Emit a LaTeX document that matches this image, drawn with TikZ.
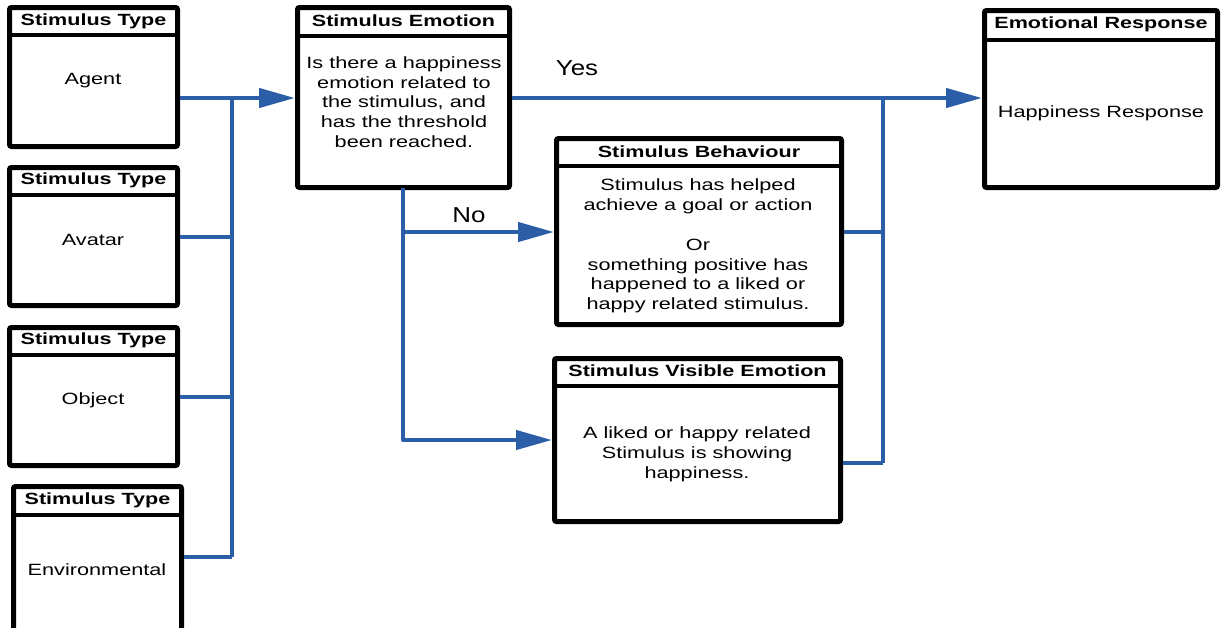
\documentclass[tikz,border=0pt]{standalone}
\usepackage{fontspec}
\setmainfont{Liberation Sans}
\newfontfamily\wideface{Liberation Sans}[FakeStretch=1.33]
\newfontfamily\lblface{Liberation Sans}[FakeStretch=1.2]
\usetikzlibrary{arrows.meta,fit}
\definecolor{flowblue}{RGB}{43,94,167}
\begin{document}
\begin{tikzpicture}[x=0.5pt,y=-0.5pt,
  box/.style={draw=black,line width=2.5pt,rounded corners=1pt,inner sep=0pt,fill=white},
  sepline/.style={draw=black,line width=2pt},
  hdr/.style={font=\wideface\bfseries\fontsize{8.1}{10}\selectfont,inner sep=0pt},
  body/.style={font=\wideface\fontsize{8.15}{9.9}\selectfont,align=center,inner sep=0pt},
  lbl/.style={font=\lblface\fontsize{10.8}{12}\selectfont,inner sep=0pt},
  conn/.style={draw=flowblue,line width=2.2pt,line join=round},
  arr/.style={conn,-{Triangle[length=18pt,width=9.5pt]}}]
\useasboundingbox (0,0) rectangle (1221,627);
\clip (0,0) rectangle (1221,627);

% ---- stimulus type boxes ----
\node[box,fit={(9.5,7.5) (177.5,146.5)}] (agent) {};
\draw[sepline] (agent.west |- 0,35) -- (agent.east |- 0,35);
\node[hdr] (agenthdr) at (93.5,21) {Stimulus Type};
\node[body] (agenttxt) at (93,81) {Agent};

\node[box,fit={(9.5,167.5) (177.5,305.5)}] (avatar) {};
\draw[sepline] (avatar.west |- 0,195) -- (avatar.east |- 0,195);
\node[hdr] (avatarhdr) at (93.5,180) {Stimulus Type};
\node[body] (avatartxt) at (93,240) {Avatar};

\node[box,fit={(9.5,327.5) (177.5,465.5)}] (object) {};
\draw[sepline] (object.west |- 0,355) -- (object.east |- 0,355);
\node[hdr] (objecthdr) at (93.5,340) {Stimulus Type};
\node[body] (objecttxt) at (93,400) {Object};

\node[box,fit={(13.5,486.5) (181.5,645)}] (env) {};
\draw[sepline] (env.west |- 0,515) -- (env.east |- 0,515);
\node[hdr] (envhdr) at (97.5,500) {Stimulus Type};
\node[body] (envtxt) at (97,570) {Environmental};

% ---- stimulus emotion ----
\node[box,fit={(297.5,7.5) (509.5,187.5)}] (emo) {};
\draw[sepline] (emo.west |- 0,36) -- (emo.east |- 0,36);
\node[hdr] (emohdr) at (403.5,21) {Stimulus Emotion};
\node[body] (emotxt) at (404,102) {Is there a happiness\\emotion related to\\the stimulus, and\\has the threshold\\been reached.};

% ---- emotional response ----
\node[box,fit={(984.5,10.5) (1217.5,187.5)}] (resp) {};
\draw[sepline] (resp.west |- 0,39.5) -- (resp.east |- 0,39.5);
\node[hdr] (resphdr) at (1101,24) {Emotional Response};
\node[body] (resptxt) at (1101,113) {Happiness Response};

% ---- stimulus behaviour ----
\node[box,fit={(556.5,138.5) (841.5,324.5)}] (behav) {};
\draw[sepline] (behav.west |- 0,166) -- (behav.east |- 0,166);
\node[hdr] (behavhdr) at (699,152) {Stimulus Behaviour};
\node[body] (behavtxt) at (698,246) {Stimulus has helped\\achieve a goal or action\\[9.9pt]Or\\something positive has\\happened to a liked or\\happy related stimulus.};

% ---- stimulus visible emotion ----
\node[box,fit={(554.5,358.5) (840.5,521.5)}] (visemo) {};
\draw[sepline] (visemo.west |- 0,386) -- (visemo.east |- 0,386);
\node[hdr] (visemohdr) at (697.5,371) {Stimulus Visible Emotion};
\node[body] (visemotxt) at (697,454) {A liked or happy related\\Stimulus is showing\\happiness.};

% ---- junction points ----
\coordinate (busL) at (232,98);
\coordinate (busLend) at (232,557);
\coordinate (busR) at (883,98);
\coordinate (busRend) at (883,463);
\coordinate (noTop) at (403,187.5);
\coordinate (noMid) at (403,232);
\coordinate (noEnd) at (403,440);

% ---- connectors: stimulus types into emotion ----
\draw[arr] (agent.east |- busL) -- (emo.west |- busL);
\draw[conn] (busL) -- (busLend);
\draw[conn] (avatar.east |- 0,237) -- (busL |- 0,237);
\draw[conn] (object.east |- 0,397) -- (busL |- 0,397);
\draw[conn] (env.east |- busLend) -- (busLend);

% ---- yes branch ----
\draw[arr] (emo.east |- busR) -- (resp.west |- busR);
\node[lbl] (yes) at (577,68) {Yes};
\draw[conn] (busR) -- (busRend);
\draw[conn] (behav.east |- 0,232) -- (busR |- 0,232);
\draw[conn] (visemo.east |- busRend) -- (busRend);

% ---- no branch ----
\draw[arr] (noTop) -- (noEnd) -- (visemo.west |- noEnd);
\draw[arr] (noMid) -- (behav.west |- noMid);
\node[lbl] (no) at (469,215) {No};
\end{tikzpicture}
\end{document}
